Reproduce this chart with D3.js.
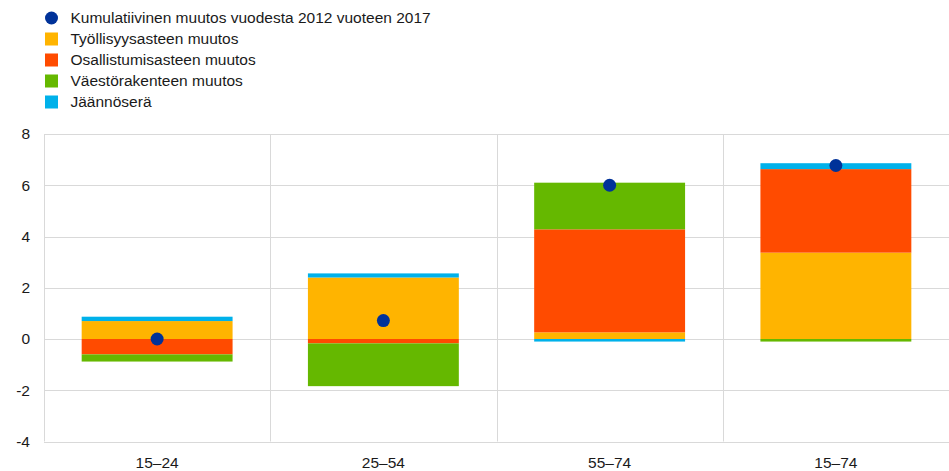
<!DOCTYPE html>
<html>
<head>
<meta charset="utf-8">
<script src="https://cdn.jsdelivr.net/npm/d3@7"></script>
<style>
  html, body { margin: 0; padding: 0; background: #fff; }
  svg { display: block; font-family: "Liberation Sans", Arial, sans-serif; }
</style>
</head>
<body>
<svg id="chart" width="949" height="471"></svg>
<script>
// Age groups
const categories = ["15–24", "25–54", "55–74", "15–74"];

// Decomposition components (percentage points)
const employmentRate   = [0.70, 2.40, 0.26, 3.37];
const participationRate = [-0.60, -0.17, 4.02, 3.26];
const populationStructure = [-0.28, -1.67, 1.82, -0.10];
const residual         = [0.17, 0.16, -0.10, 0.23];

// Cumulative change 2012–2017
const cumulativeChange = [0.0, 0.72, 6.0, 6.77];

const yTicks = [-4, -2, 0, 2, 4, 6, 8];

const seriesNames = [
  "Työllisyysasteen muutos",
  "Osallistumisasteen muutos",
  "Väestörakenteen muutos",
  "Jäännöserä"
];
const seriesColors = ["#FFB400", "#FF4B00", "#65B800", "#00B1EA"];
const dotColor = "#003299";
const dotLabel = "Kumulatiivinen muutos vuodesta 2012 vuoteen 2017";

const FONT = 15.5;

const rows = categories.map((c, i) => ({
  cat: c,
  s0: employmentRate[i],
  s1: participationRate[i],
  s2: populationStructure[i],
  s3: residual[i]
}));

const svg = d3.select("#chart");
const margin = { left: 44, right: 0, top: 134, bottom: 29 };
const W = 949, H = 471;

const x = d3.scaleBand()
  .domain(categories)
  .range([margin.left, W - margin.right])
  .paddingInner(0.333)
  .paddingOuter(0.1665);

const y = d3.scaleLinear()
  .domain([-4, 8])
  .range([H - margin.bottom - 0.5, margin.top]);

// Horizontal gridlines
svg.append("g")
  .selectAll("line")
  .data(yTicks)
  .join("line")
  .attr("x1", margin.left)
  .attr("x2", W)
  .attr("y1", d => Math.round(y(d)) + 0.5)
  .attr("y2", d => Math.round(y(d)) + 0.5)
  .attr("stroke", "#d9d9d9")
  .attr("stroke-width", 1);

// Vertical separators between categories
const step = x.step();
const seps = d3.range(0, categories.length).map(i => margin.left + i * step);
svg.append("g")
  .selectAll("line")
  .data(seps)
  .join("line")
  .attr("x1", d => Math.round(d) + 0.5)
  .attr("x2", d => Math.round(d) + 0.5)
  .attr("y1", y(8))
  .attr("y2", y(-4))
  .attr("stroke", "#d9d9d9")
  .attr("stroke-width", 1);

// Y axis labels (plain hyphen for negatives)
const yAxis = d3.axisLeft(y).tickValues(yTicks).tickSize(0).tickPadding(0)
  .tickFormat(d => String(d));
const gy = svg.append("g")
  .attr("transform", `translate(30,0)`)
  .call(yAxis);
gy.select(".domain").remove();
gy.selectAll("text")
  .attr("font-size", FONT)
  .attr("font-family", "Liberation Sans, Arial, sans-serif")
  .attr("fill", "#1a1a1a");

// X axis labels
const xAxis = d3.axisBottom(x).tickSize(0).tickPadding(0);
const gx = svg.append("g")
  .attr("transform", `translate(0,456.5)`)
  .call(xAxis);
gx.select(".domain").remove();
gx.selectAll("text")
  .attr("font-size", FONT)
  .attr("font-family", "Liberation Sans, Arial, sans-serif")
  .attr("fill", "#1a1a1a");

// Stacked bars (positive up, negative down)
const stack = d3.stack()
  .keys(["s0", "s1", "s2", "s3"])
  .order(d3.stackOrderNone)
  .offset(d3.stackOffsetDiverging);
const stacked = stack(rows);

svg.append("g")
  .selectAll("g")
  .data(stacked)
  .join("g")
  .attr("fill", (d, i) => seriesColors[i])
  .selectAll("rect")
  .data(d => d)
  .join("rect")
  .attr("x", d => x(d.data.cat))
  .attr("width", x.bandwidth())
  .attr("y", d => y(Math.max(d[0], d[1])))
  .attr("height", d => Math.abs(y(d[0]) - y(d[1])));

// Cumulative change markers
svg.append("g")
  .selectAll("circle")
  .data(cumulativeChange)
  .join("circle")
  .attr("cx", (d, i) => x(categories[i]) + x.bandwidth() / 2)
  .attr("cy", d => y(d))
  .attr("r", 6.5)
  .attr("fill", dotColor);

// Legend
const legend = svg.append("g").attr("font-size", FONT).attr("fill", "#1a1a1a");
const legendY0 = 18, legendStep = 21;
legend.append("circle")
  .attr("cx", 51.5).attr("cy", legendY0).attr("r", 6.5).attr("fill", dotColor);
legend.append("text")
  .attr("x", 70.5).attr("y", legendY0).attr("dy", "0.35em").text(dotLabel);
seriesNames.forEach((name, i) => {
  const cy = legendY0 + (i + 1) * legendStep;
  legend.append("rect")
    .attr("x", 45).attr("y", cy - 6.5).attr("width", 13).attr("height", 13)
    .attr("fill", seriesColors[i]);
  legend.append("text")
    .attr("x", 70.5).attr("y", cy).attr("dy", "0.35em").text(name);
});
</script>
</body>
</html>
